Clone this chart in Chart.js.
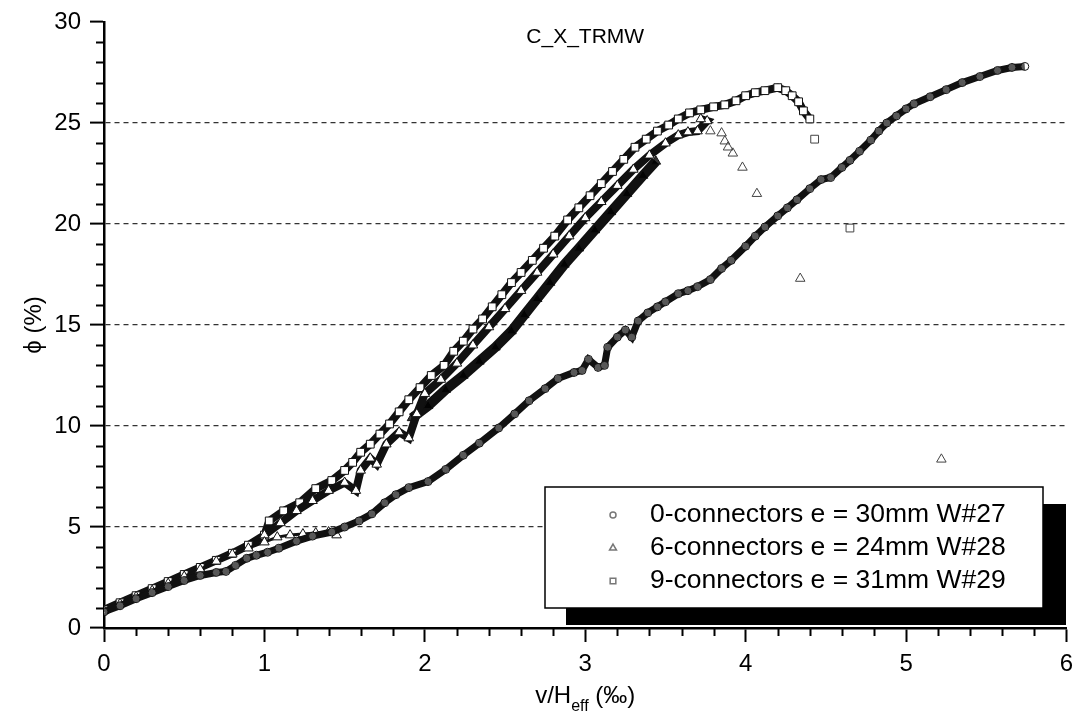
<!DOCTYPE html>
<html>
<head>
<meta charset="utf-8">
<script src="https://cdn.jsdelivr.net/npm/chart.js@4.4.1/dist/chart.umd.min.js"></script>
<style>
  html, body { margin: 0; padding: 0; background: #fff; }
  .chart-container { position: relative; width: 1073px; height: 715px; }
</style>
</head>
<body>
<div class="chart-container"><canvas id="chart"></canvas></div>
<script>
const FONT = '"Liberation Sans", Arial, sans-serif';

const chartTitle = 'C_X_TRMW';
const seriesLabels = [
  '0-connectors e = 30mm W#27',
  '6-connectors e = 24mm W#28',
  '9-connectors e = 31mm W#29',
];
const xTicks = [0, 1, 2, 3, 4, 5, 6];
const yTicks = [0, 5, 10, 15, 20, 25, 30];

// W#27 - circles
const w27 = [
  [0.0, 0.8], [0.1, 1.1], [0.2, 1.45], [0.3, 1.75], [0.4, 2.05], [0.5, 2.35], [0.6, 2.6],
  [0.7, 2.75], [0.76, 2.8], [0.82, 3.1], [0.89, 3.45], [0.95, 3.6], [1.02, 3.75], [1.09, 3.95],
  [1.2, 4.3], [1.3, 4.55], [1.42, 4.75], [1.5, 5.0], [1.59, 5.3], [1.67, 5.65], [1.75, 6.2],
  [1.82, 6.6], [1.9, 6.95], [2.02, 7.25], [2.13, 7.85], [2.24, 8.55], [2.34, 9.15], [2.46, 9.9],
  [2.56, 10.6], [2.65, 11.25], [2.75, 11.85], [2.83, 12.35], [2.93, 12.65], [2.98, 12.75],
  [3.02, 13.3], [3.08, 12.9], [3.12, 13.0], [3.14, 13.9], [3.2, 14.4], [3.25, 14.75],
  [3.29, 14.4], [3.33, 15.2], [3.39, 15.6], [3.45, 15.9], [3.5, 16.15], [3.58, 16.55],
  [3.64, 16.7], [3.7, 16.9], [3.78, 17.25], [3.85, 17.8], [3.91, 18.2], [4.0, 18.9],
  [4.06, 19.4], [4.12, 19.85], [4.2, 20.4], [4.26, 20.8], [4.32, 21.2], [4.4, 21.75],
  [4.47, 22.2], [4.53, 22.3], [4.6, 22.8], [4.65, 23.15], [4.71, 23.6], [4.78, 24.15],
  [4.83, 24.6], [4.88, 25.0], [4.94, 25.35], [5.0, 25.7], [5.05, 25.95], [5.15, 26.3],
  [5.25, 26.65], [5.35, 27.0], [5.46, 27.3], [5.57, 27.6], [5.66, 27.75], [5.74, 27.8],
];

// W#28 - triangles
const w28Lower = [
  [0.0, 0.85], [0.1, 1.2], [0.2, 1.55], [0.3, 1.85], [0.4, 2.2], [0.5, 2.55], [0.6, 2.9],
  [0.7, 3.3], [0.8, 3.65], [0.9, 3.95], [1.0, 4.25], [1.08, 4.5], [1.16, 4.6], [1.24, 4.65],
  [1.32, 4.7], [1.4, 4.75], [1.45, 4.6],
];
const w28Upper = [
  [1.0, 4.6], [1.1, 5.2], [1.2, 5.8], [1.3, 6.3], [1.4, 6.8], [1.5, 7.2], [1.57, 6.8],
  [1.6, 7.8], [1.66, 8.4], [1.7, 8.1], [1.76, 9.1], [1.84, 9.7], [1.9, 9.4], [1.95, 10.6],
  [2.0, 11.6], [2.1, 12.3], [2.2, 13.1], [2.3, 14.0], [2.4, 14.9], [2.5, 15.8], [2.6, 16.7],
  [2.7, 17.6], [2.8, 18.5], [2.9, 19.4], [3.0, 20.3], [3.1, 21.1], [3.2, 21.9], [3.3, 22.7],
  [3.4, 23.4], [3.5, 24.0], [3.58, 24.4], [3.64, 24.55], [3.7, 24.6], [3.76, 25.1], [3.72, 25.2],
];
const w28Solid = [
  [1.92, 10.4], [2.02, 11.0], [2.13, 11.8], [2.24, 12.5], [2.34, 13.2], [2.44, 13.9],
  [2.54, 14.7], [2.62, 15.5], [2.7, 16.3], [2.78, 17.1], [2.87, 18.0], [2.96, 18.8],
  [3.06, 19.7], [3.16, 20.6], [3.26, 21.5], [3.36, 22.4], [3.44, 23.1],
];
const w28Tail = [
  [3.78, 24.6], [3.85, 24.5], [3.87, 24.1], [3.89, 23.8], [3.92, 23.5], [3.98, 22.8],
  [4.07, 21.5], [4.34, 17.3], [5.22, 8.35],
];

// W#29 - squares
const w29 = [
  [0.0, 0.9], [0.1, 1.25], [0.2, 1.6], [0.3, 1.95], [0.4, 2.3], [0.5, 2.65], [0.6, 3.0],
  [0.7, 3.35], [0.8, 3.7], [0.9, 4.1], [1.0, 4.6], [1.03, 5.3], [1.12, 5.8], [1.22, 6.2],
  [1.32, 6.9], [1.42, 7.3], [1.5, 7.8], [1.55, 8.2], [1.6, 8.7], [1.66, 9.1], [1.72, 9.6],
  [1.78, 10.1], [1.84, 10.7], [1.9, 11.3], [1.97, 11.9], [2.04, 12.5], [2.12, 13.0],
  [2.18, 13.7], [2.24, 14.2], [2.3, 14.8], [2.36, 15.3], [2.42, 15.9], [2.48, 16.5],
  [2.54, 17.1], [2.6, 17.6], [2.67, 18.2], [2.74, 18.8], [2.81, 19.4], [2.89, 20.2],
  [2.96, 20.8], [3.03, 21.4], [3.1, 22.0], [3.17, 22.6], [3.24, 23.2], [3.31, 23.8],
  [3.38, 24.2], [3.45, 24.6], [3.52, 24.9], [3.58, 25.2], [3.65, 25.5], [3.72, 25.65],
  [3.8, 25.8], [3.87, 25.9], [3.94, 26.1], [4.0, 26.35], [4.06, 26.5], [4.12, 26.6],
  [4.2, 26.75], [4.25, 26.6], [4.29, 26.35], [4.33, 26.05], [4.36, 25.6], [4.4, 25.2],
];
const w29Tail = [[4.43, 24.2], [4.65, 19.8]];

const radius = { circle: 4, triangle: 5.5, rect: 5.5 };

function series(data, style, lineWidth, extra) {
  return Object.assign({
    data: data.map(([x, y]) => ({ x, y })),
    pointStyle: style,
    pointRadius: radius[style],
    pointHoverRadius: radius[style],
    pointBorderColor: '#111',
    pointBackgroundColor: '#fff',
    pointBorderWidth: 1,
    borderColor: '#111',
    borderWidth: lineWidth,
    showLine: lineWidth > 0,
    tension: 0,
  }, extra || {});
}

const tailStyle = {
  pointBorderColor: '#444',
  pointBackgroundColor: 'rgba(255,255,255,0)',
  pointRadius: 5.5,
  pointHoverRadius: 5.5,
};

// minor ticks, plot title, x title and legend box
const decorations = {
  id: 'decorations',
  afterDraw(chart) {
    const { ctx, chartArea: a, scales: { x, y } } = chart;
    ctx.save();
    ctx.strokeStyle = '#000';
    ctx.lineWidth = 2;
    ctx.beginPath();
    for (let v = 1; v < 30; v++) {
      if (v % 5 === 0) continue;
      const py = Math.round(y.getPixelForValue(v)) + 0.5;
      ctx.moveTo(a.left - 8, py);
      ctx.lineTo(a.left, py);
    }
    for (let i = 1; i < 30; i++) {
      if (i % 5 === 0) continue;
      const px = Math.round(x.getPixelForValue(i / 5)) + 0.5;
      ctx.moveTo(px, a.bottom);
      ctx.lineTo(px, a.bottom + 8);
    }
    ctx.stroke();

    // title inside plot
    ctx.fillStyle = '#000';
    ctx.font = '21px ' + FONT;
    ctx.textAlign = 'center';
    ctx.textBaseline = 'middle';
    ctx.fillText(chartTitle, (a.left + a.right) / 2, a.top + 15);

    // x axis title with subscript
    const parts = [['v/H', '24px ', 0], ['eff', '16px ', 8], [' (\u2030)', '24px ', 0]];
    let total = 0;
    parts.forEach(p => { ctx.font = p[1] + FONT; total += ctx.measureText(p[0]).width; });
    let cx = (a.left + a.right) / 2 - total / 2;
    ctx.textAlign = 'left';
    ctx.textBaseline = 'alphabetic';
    parts.forEach(p => {
      ctx.font = p[1] + FONT;
      ctx.fillText(p[0], cx, 703 + p[2]);
      cx += ctx.measureText(p[0]).width;
    });

    // legend
    const bx = a.left + 441, by = a.top + 465, bw = 498, bh = 121;
    ctx.fillStyle = '#000';
    ctx.fillRect(bx + 21, by + 17, bw + 2, bh);
    ctx.fillStyle = '#fff';
    ctx.fillRect(bx, by, bw, bh);
    ctx.lineWidth = 1.5;
    ctx.strokeStyle = '#000';
    ctx.strokeRect(bx, by, bw, bh);
    const styles = ['circle', 'triangle', 'rect'];
    ctx.textBaseline = 'middle';
    seriesLabels.forEach((label, i) => {
      const ly = by + 28 + i * 33;
      ctx.fillStyle = '#fff';
      ctx.strokeStyle = '#777';
      Chart.helpers.drawPoint(ctx, {
        pointStyle: styles[i], radius: styles[i] === 'circle' ? 3 : 4, borderWidth: 1, rotation: 0,
      }, bx + 68, ly);
      ctx.fillStyle = '#000';
      ctx.font = '26.5px ' + FONT;
      ctx.fillText(label, bx + 105, ly);
    });
    ctx.restore();
  }
};

const ctx = document.getElementById('chart').getContext('2d');
new Chart(ctx, {
  type: 'scatter',
  data: {
    datasets: [
      series(w27, 'circle', 7, { label: seriesLabels[0], pointBackgroundColor: 'rgba(255,255,255,0.3)' }),
      series(w28Lower, 'triangle', 3, { label: seriesLabels[1] }),
      series(w28Upper, 'triangle', 8),
      series(w28Solid, 'triangle', 10, { pointBackgroundColor: 'rgba(0,0,0,0.8)' }),
      series(w28Tail, 'triangle', 0, tailStyle),
      series(w29, 'rect', 8, { label: seriesLabels[2] }),
      series(w29Tail, 'rect', 0, tailStyle),
    ],
  },
  options: {
    responsive: true,
    maintainAspectRatio: false,
    animation: false,
    layout: { padding: { top: 22, right: 3, left: 0, bottom: 0 } },
    plugins: { legend: { display: false }, tooltip: { enabled: false } },
    scales: {
      x: {
        type: 'linear',
        min: 0,
        max: 6,
        afterBuildTicks: s => { s.ticks = xTicks.map(v => ({ value: v })); },
        afterFit: s => { s.height = 87; s.paddingLeft = 0; s.paddingRight = 0; },
        ticks: { color: '#000', font: { size: 24, family: FONT }, padding: 8, maxRotation: 0 },
        grid: { drawOnChartArea: false, tickLength: 14, tickWidth: 2, tickColor: '#000' },
        border: { color: '#000', width: 2.5 },
      },
      y: {
        type: 'linear',
        min: 0,
        max: 30,
        afterBuildTicks: s => { s.ticks = yTicks.map(v => ({ value: v })); },
        afterFit: s => { s.width = 104; s.paddingTop = 0; s.paddingBottom = 0; },
        ticks: { color: '#000', font: { size: 24, family: FONT }, padding: 9 },
        grid: {
          color: c => (c.tick && (c.tick.value === 0 || c.tick.value === 30)) ? 'rgba(0,0,0,0)' : '#333',
          lineWidth: 1.2,
          tickLength: 14,
          tickWidth: 2,
          tickColor: '#000',
        },
        border: { color: '#000', width: 2.5, dash: [5, 4] },
        title: {
          display: true,
          text: '\u03D5 (%)',
          color: '#000',
          font: { size: 24, family: FONT },
          padding: { top: 20, bottom: 0 },
        },
      },
    },
  },
  plugins: [decorations],
});
</script>
</body>
</html>
